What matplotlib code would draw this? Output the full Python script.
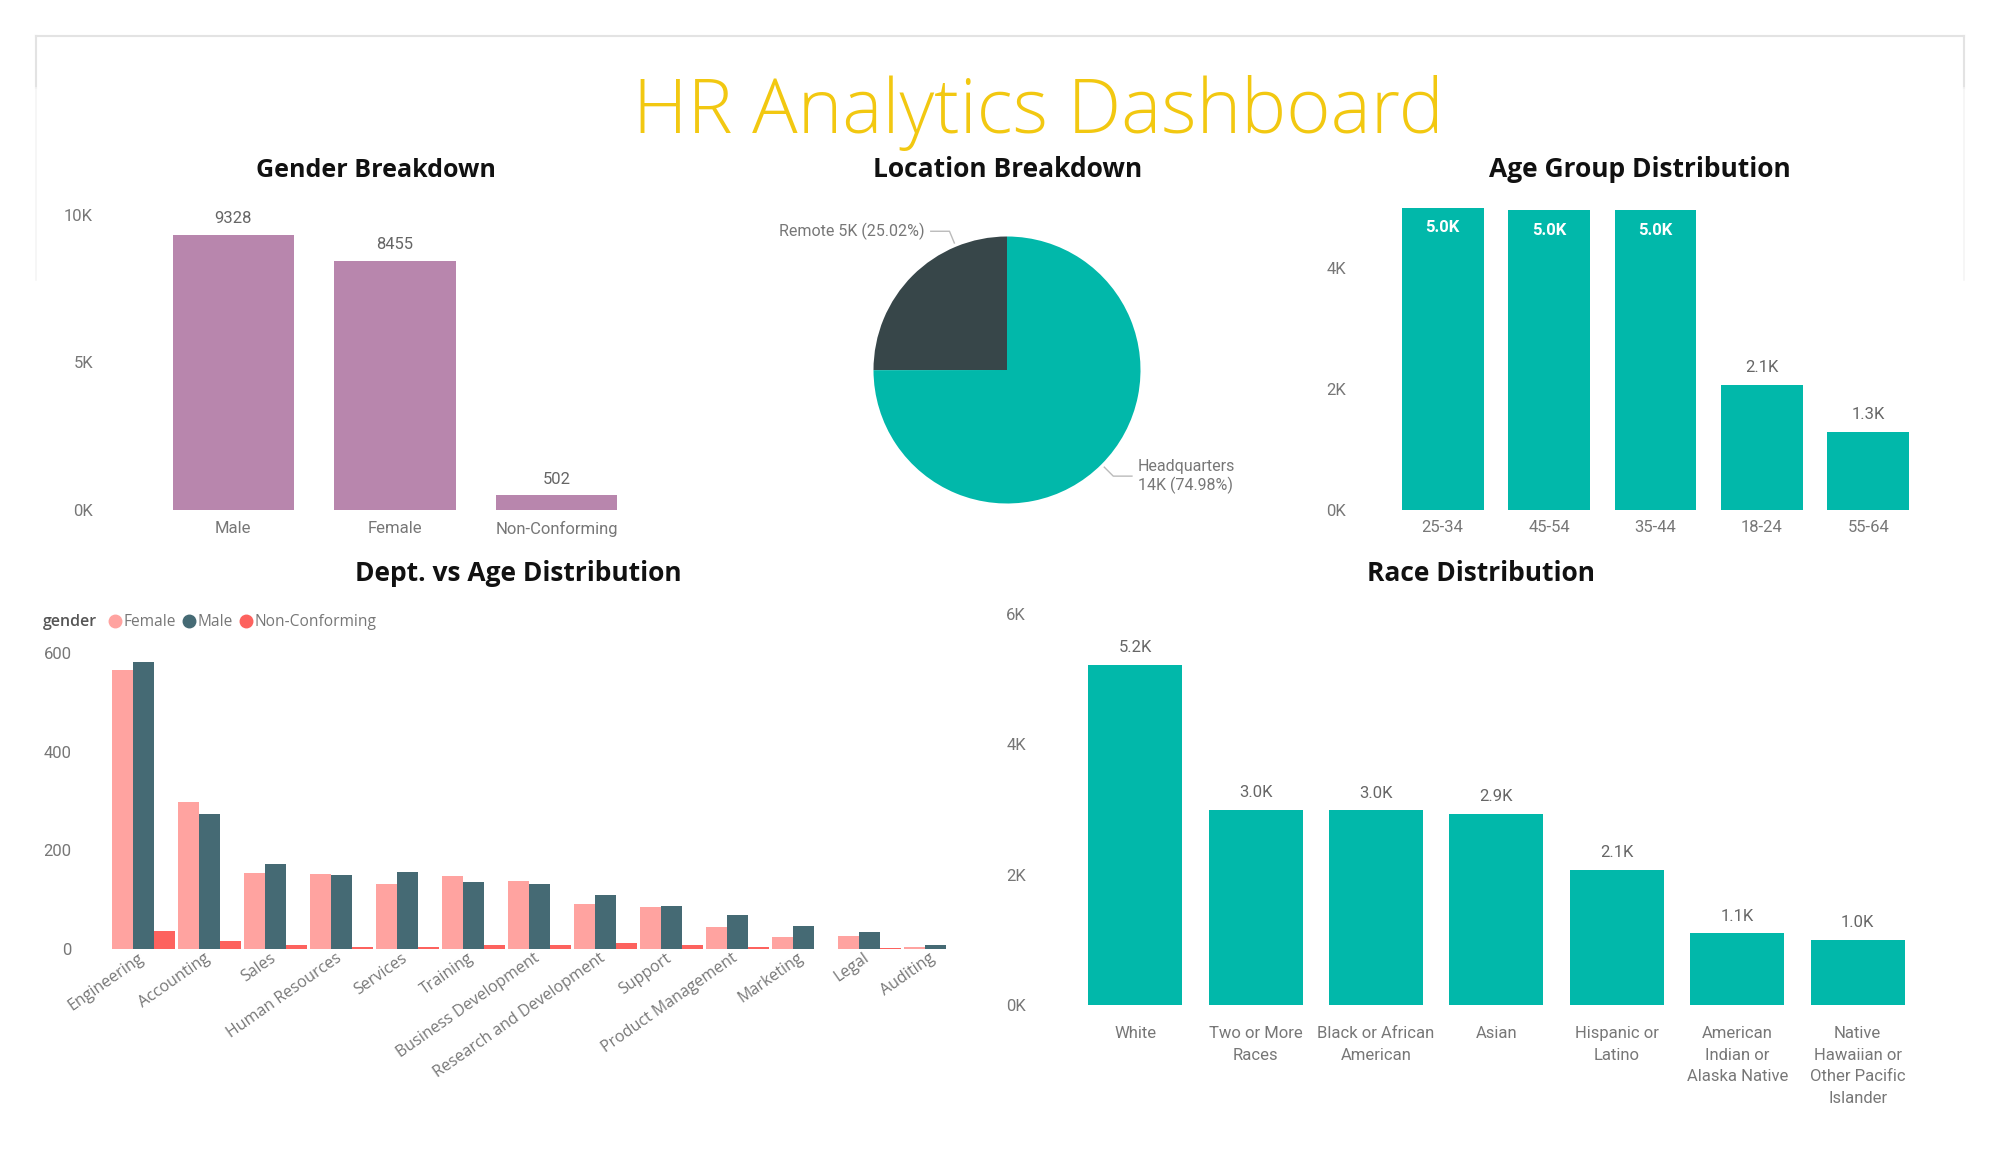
import numpy as np
import matplotlib
matplotlib.use("agg")
from matplotlib import pyplot as plt
from matplotlib.lines import Line2D
from matplotlib.ticker import FuncFormatter
from matplotlib.transforms import ScaledTranslation

plt.rcParams["font.family"] = ["Roboto", "DejaVu Sans"]

W, H = 2000, 1156
PT = 72 / 100  # points per pixel

gender_labels = ["Male", "Female", "Non-Conforming"]
gender_counts = [9328, 8455, 502]

location_labels = ["Remote", "Headquarters"]
location_counts = [4575, 13710]

age_groups = ["25-34", "45-54", "35-44", "18-24", "55-64"]
age_counts = [5005, 4960, 4955, 2070, 1295]

departments = ["Engineering", "Accounting", "Sales", "Human Resources", "Services",
               "Training", "Business Development", "Research and Development",
               "Support", "Product Management", "Marketing", "Legal", "Auditing"]
dept_female = [566, 297, 155, 153, 131, 148, 137, 91, 86, 44, 25, 27, 4]
dept_male = [582, 274, 173, 151, 157, 136, 131, 109, 88, 69, 47, 34, 8]
dept_nonconf = [36, 16, 8, 5, 5, 8, 8, 13, 9, 4, 0, 3, 0]

races = ["White", "Two or More\nRaces", "Black or African\nAmerican", "Asian",
         "Hispanic or\nLatino", "American\nIndian or\nAlaska Native",
         "Native\nHawaiian or\nOther Pacific\nIslander"]
race_counts = [5210, 2990, 2985, 2935, 2070, 1100, 995]

TEAL = "#01B8AA"
DARK = "#374649"
MAUVE = "#B886AD"
GOLD = "#F2C811"
TICK = "#777777"
VAL = "#666666"
SEGOE = ["Open Sans", "DejaVu Sans"]

fig = plt.figure(figsize=(W / 100, H / 100), dpi=100)


def px_axes(left, top, right, bottom):
    return fig.add_axes([left / W, 1 - bottom / H, (right - left) / W, (bottom - top) / H])


def clean(ax, ypad=19, xpad=9):
    for s in ax.spines.values():
        s.set_visible(False)
    ax.tick_params(length=0, labelsize=12, labelcolor=TICK)
    ax.tick_params(axis="y", pad=ypad * PT)
    ax.tick_params(axis="x", pad=xpad * PT)


kfmt = FuncFormatter(lambda v, p: f"{v / 1000:.0f}K")


def panel_title(x, y, s, size=19):
    fig.text(x / W, 1 - y / H, s, ha="center", va="baseline", fontsize=size,
             fontweight="bold", family=SEGOE, color="#111111")


# frame + title
fig.add_artist(Line2D([36 / W, 1964 / W], [1 - 36 / H] * 2, color="#E3E3E3", lw=1.5))
for xx in (36, 1964):
    fig.add_artist(Line2D([xx / W] * 2, [1 - 36 / H, 1 - 88 / H], color="#E3E3E3", lw=1.5))
    fig.add_artist(Line2D([xx / W] * 2, [1 - 88 / H, 1 - 280 / H], color="#F5F5F5", lw=1.2))

fig.text(1038 / W, 1 - 133 / H, "HR Analytics Dashboard", ha="center", va="baseline",
         fontsize=54.5, color=GOLD, fontweight="light", family=SEGOE)

# Gender breakdown
ax = px_axes(112, 215, 636, 510)
xg = np.arange(len(gender_labels))
bars = ax.bar(xg, gender_counts, width=0.75, color=MAUVE)
ax.bar_label(bars, labels=[str(v) for v in gender_counts], padding=6, fontsize=12, color=VAL)
ax.set_xlim(-0.75, 2.49)
ax.set_ylim(0, 10000)
ax.set_yticks([0, 5000, 10000])
ax.yaxis.set_major_formatter(kfmt)
ax.set_xticks(xg, gender_labels)
clean(ax, ypad=19, xpad=11)
panel_title(376, 177, "Gender Breakdown", size=18)

# Location breakdown
ax = px_axes(1007 - 133.5, 370 - 133.5, 1007 + 133.5, 370 + 133.5)
wedges, _ = ax.pie(location_counts, colors=[DARK, TEAL], startangle=90, counterclock=True,
                   radius=1, wedgeprops=dict(linewidth=0))
ax.set_xlim(-1, 1)
ax.set_ylim(-1, 1)
ax.set_aspect("equal")
ax.axis("off")
total = sum(location_counts)
lead_frac = [0.25, 0.5]
for w, name, v, f in zip(wedges, location_labels, location_counts, lead_frac):
    ang = np.deg2rad(w.theta1 + f * (w.theta2 - w.theta1))
    c, s = np.cos(ang), np.sin(ang)
    side = 1 if c > 0 else -1
    p0 = (1.03 * c, 1.03 * s)
    p1 = (1.125 * c, 1.125 * s)
    p2 = (p1[0] + side * 0.14, p1[1])
    ax.plot([p0[0], p1[0], p2[0]], [p0[1], p1[1], p2[1]], color="#BBBBBB", lw=1, clip_on=False)
    lab = f"{v / 1000:.0f}K ({v / total * 100:.2f}%)"
    txt = f"{name}\n{lab}" if side > 0 else f"{name} {lab}"
    ax.text(p2[0] + side * 0.045, p2[1], txt, ha="left" if side > 0 else "right",
            va="center", fontsize=11.5, color=TICK, linespacing=1.2)
panel_title(1008, 177, "Location Breakdown")

# Age group distribution
ax = px_axes(1365, 207.5, 1930, 510)
xa = np.arange(len(age_groups))
bars = ax.bar(xa, age_counts, width=0.77, color=TEAL)
ax.set_xlim(-0.73, 4.58)
ax.set_ylim(0, 5000)
for b, v in zip(bars, age_counts):
    lab = f"{v / 1000:.1f}K"
    xc = b.get_x() + b.get_width() / 2
    if v > 0.9 * 5000:
        ax.annotate(lab, (xc, v), xytext=(0, -14.5), textcoords="offset points",
                    ha="center", va="center", fontsize=12, color="white", fontweight="bold")
    else:
        ax.annotate(lab, (xc, v), xytext=(0, 12.5), textcoords="offset points",
                    ha="center", va="center", fontsize=12, color=VAL)
ax.set_yticks([0, 2000, 4000])
ax.yaxis.set_major_formatter(kfmt)
ax.set_xticks(xa, age_groups)
clean(ax, ypad=19, xpad=10)
panel_title(1640, 177, "Age Group Distribution")

# Dept vs age distribution
ax = px_axes(100.6, 653, 978, 949)
xd = np.arange(len(departments))
bw = 0.318
ax.bar(xd - bw, dept_female, width=bw, color="#FFA3A0", label="Female")
ax.bar(xd, dept_male, width=bw, color="#456A74", label="Male")
ax.bar(xd + bw, dept_nonconf, width=bw, color="#FD625E", label="Non-Conforming")
ax.set_xlim(-0.65, 12.65)
ax.set_ylim(0, 600)
ax.set_yticks([0, 200, 400, 600])
ax.set_xticks(xd, departments, rotation=35, ha="right", rotation_mode="anchor")
clean(ax, ypad=29, xpad=6)
shift = ScaledTranslation(-6 / 100, 5 / 100, fig.dpi_scale_trans)
for t in ax.get_xticklabels():
    t.set_fontfamily(SEGOE)
    t.set_fontsize(11.5)
    t.set_transform(t.get_transform() + shift)
panel_title(518, 581, "Dept. vs Age Distribution")

fig.text(43 / W, 1 - 622 / H, "gender", ha="left", va="center", fontsize=11.5,
         color="#555555", fontweight="semibold", family=SEGOE)
handles = [Line2D([], [], marker="o", ls="", color=c, markersize=9)
           for c in ("#FFA3A0", "#456A74", "#FD625E")]
fig.legend(handles, ["Female", "Male", "Non-Conforming"], loc="center left",
           bbox_to_anchor=(99 / W, 1 - 622 / H), ncol=3, frameon=False,
           handletextpad=0.05, columnspacing=0.35, handlelength=1.0, borderpad=0,
           labelcolor=TICK, prop=dict(family=SEGOE, size=11.2))

# Race distribution
ax = px_axes(1045, 613.7, 1925, 1005)
xr = np.arange(len(races))
bars = ax.bar(xr, race_counts, width=0.78, color=TEAL)
ax.bar_label(bars, labels=[f"{v / 1000:.1f}K" for v in race_counts], padding=7,
             fontsize=12, color=VAL)
ax.set_xlim(-0.75, 6.56)
ax.set_ylim(0, 6000)
ax.set_yticks([0, 2000, 4000, 6000])
ax.yaxis.set_major_formatter(kfmt)
ax.set_xticks(xr, races, linespacing=1.55, va="top")
clean(ax, ypad=19, xpad=21)
panel_title(1481, 581, "Race Distribution")

fig.savefig("out.png", dpi=100, facecolor="white")
